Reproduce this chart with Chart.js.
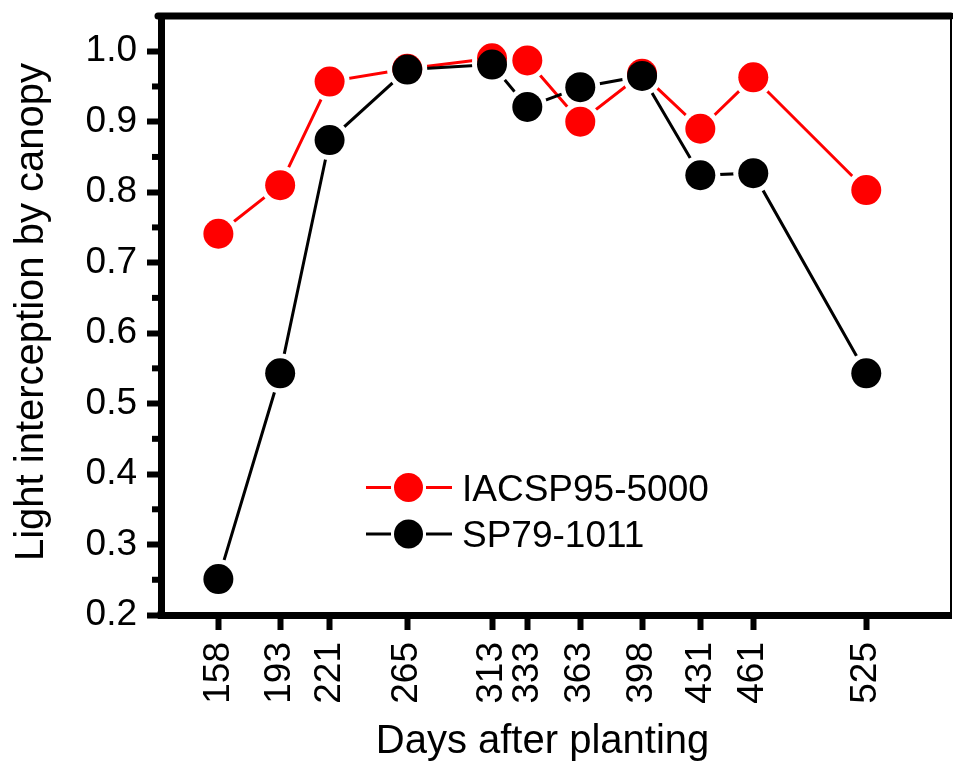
<!DOCTYPE html>
<html>
<head>
<meta charset="utf-8">
<script src="https://cdn.jsdelivr.net/npm/chart.js@4.4.1/dist/chart.umd.min.js"></script>
<style>
  html, body { margin: 0; padding: 0; background: #ffffff; }
  #wrap { width: 953px; height: 763px; }
</style>
</head>
<body>
<div id="wrap"><canvas id="c" width="953" height="763"></canvas></div>
<script>
// ---- data ----
const days = [158, 193, 221, 265, 313, 333, 363, 398, 431, 461, 525];
const iacsp = [0.741, 0.810, 0.957, 0.975, 0.990, 0.987, 0.900, 0.968, 0.890, 0.963, 0.803];
const sp79 = [0.251, 0.543, 0.874, 0.974, 0.981, 0.921, 0.949, 0.965, 0.824, 0.827, 0.543];
const yTicks = [0.2, 0.3, 0.4, 0.5, 0.6, 0.7, 0.8, 0.9, 1.0];
const yMinorTicks = [0.25, 0.35, 0.45, 0.55, 0.65, 0.75, 0.85, 0.95];
const seriesNames = ['IACSP95-5000', 'SP79-1011'];
const xTitle = 'Days after planting';
const yTitle = 'Light interception by canopy';

const RED = '#ff0000';
const BLACK = '#000000';
const FONT = '"Liberation Sans", Arial, Helvetica, sans-serif';

const pts = arr => days.map((d, i) => ({ x: d, y: arr[i] }));

const decor = {
  id: 'decor',
  afterDraw(chart) {
    const ctx = chart.ctx;
    const a = chart.chartArea;
    const ys = chart.scales.y;
    ctx.save();
    // top frame (thick) and right frame (thin)
    ctx.strokeStyle = BLACK;
    ctx.lineCap = 'round';
    ctx.lineWidth = 7;
    ctx.beginPath();
    ctx.moveTo(a.left - 3, a.top);
    ctx.lineTo(a.right, a.top);
    ctx.stroke();
    ctx.lineCap = 'butt';
    ctx.lineWidth = 2;
    ctx.beginPath();
    ctx.moveTo(a.right, a.top);
    ctx.lineTo(a.right, a.bottom);
    ctx.stroke();
    // bottom-left corner fill
    ctx.fillStyle = BLACK;
    ctx.fillRect(a.left - 3.5, a.bottom - 3.5, 7, 7);
    // minor y ticks
    ctx.lineWidth = 6;
    yMinorTicks.forEach(v => {
      const p = ys.getPixelForValue(v);
      ctx.beginPath();
      ctx.moveTo(a.left - 9, p);
      ctx.lineTo(a.left - 3, p);
      ctx.stroke();
    });
    // legend
    const rows = [
      { name: seriesNames[0], color: RED, y: 487.5 },
      { name: seriesNames[1], color: BLACK, y: 534 }
    ];
    rows.forEach(r => {
      ctx.strokeStyle = r.color;
      ctx.fillStyle = r.color;
      ctx.lineWidth = 3;
      ctx.beginPath();
      ctx.moveTo(366, r.y); ctx.lineTo(391, r.y);
      ctx.moveTo(426, r.y); ctx.lineTo(452, r.y);
      ctx.stroke();
      ctx.beginPath();
      ctx.arc(408.5, r.y, 14.5, 0, Math.PI * 2);
      ctx.fill();
      ctx.fillStyle = BLACK;
      ctx.font = '37px ' + FONT;
      ctx.textAlign = 'left';
      ctx.textBaseline = 'alphabetic';
      ctx.fillText(r.name, 462, r.y + 13.3);
    });
    // axis titles
    ctx.fillStyle = BLACK;
    ctx.font = '40px ' + FONT;
    ctx.textAlign = 'center';
    ctx.textBaseline = 'alphabetic';
    ctx.fillText(xTitle, 542.5, 753);
    ctx.translate(43, 312);
    ctx.rotate(-Math.PI / 2);
    ctx.fillText(yTitle, 0, 0);
    ctx.restore();
  }
};

new Chart(document.getElementById('c'), {
  type: 'line',
  data: {
    datasets: [
      { label: seriesNames[0] + ' line', data: pts(iacsp), borderColor: RED, borderWidth: 3,
        pointRadius: 20, pointBackgroundColor: '#ffffff', pointBorderWidth: 0, pointHoverRadius: 20,
        fill: false, tension: 0, order: 4, clip: false },
      { label: seriesNames[1] + ' line', data: pts(sp79), borderColor: BLACK, borderWidth: 3,
        pointRadius: 20, pointBackgroundColor: '#ffffff', pointBorderWidth: 0, pointHoverRadius: 20,
        fill: false, tension: 0, order: 3, clip: false },
      { label: seriesNames[0], data: pts(iacsp), showLine: false,
        pointRadius: 15, pointBackgroundColor: RED, pointBorderWidth: 0, pointHoverRadius: 15,
        order: 2, clip: false },
      { label: seriesNames[1], data: pts(sp79), showLine: false,
        pointRadius: 15, pointBackgroundColor: BLACK, pointBorderWidth: 0, pointHoverRadius: 15,
        order: 1, clip: false }
    ]
  },
  options: {
    responsive: false,
    animation: false,
    events: [],
    layout: { padding: { left: 0, right: 2, top: 16, bottom: 0 }, autoPadding: false },
    plugins: { legend: { display: false }, tooltip: { enabled: false } },
    scales: {
      x: {
        type: 'linear',
        min: 125.5,
        max: 573,
        afterBuildTicks: s => { s.ticks = days.map(v => ({ value: v })); },
        afterFit: s => { s.height = 148; s.paddingLeft = 0; s.paddingRight = 0; },
        grid: { drawOnChartArea: false, drawTicks: true, tickLength: 15, tickWidth: 6, tickColor: BLACK },
        border: { display: true, color: BLACK, width: 7 },
        ticks: {
          autoSkip: false, maxRotation: 90, minRotation: 90, padding: 12,
          color: BLACK, font: { family: FONT, size: 37 },
          callback: v => String(v)
        }
      },
      y: {
        type: 'linear',
        min: 0.2,
        max: 1.05,
        afterBuildTicks: s => { s.ticks = yTicks.map(v => ({ value: v })); },
        afterFit: s => { s.width = 161; s.paddingTop = 0; s.paddingBottom = 0; },
        grid: { drawOnChartArea: false, drawTicks: true, tickLength: 14, tickWidth: 6, tickColor: BLACK },
        border: { display: true, color: BLACK, width: 7 },
        ticks: {
          padding: 10, color: BLACK, font: { family: FONT, size: 37 },
          callback: v => Number(v).toFixed(1)
        }
      }
    }
  },
  plugins: [decor]
});
</script>
</body>
</html>
